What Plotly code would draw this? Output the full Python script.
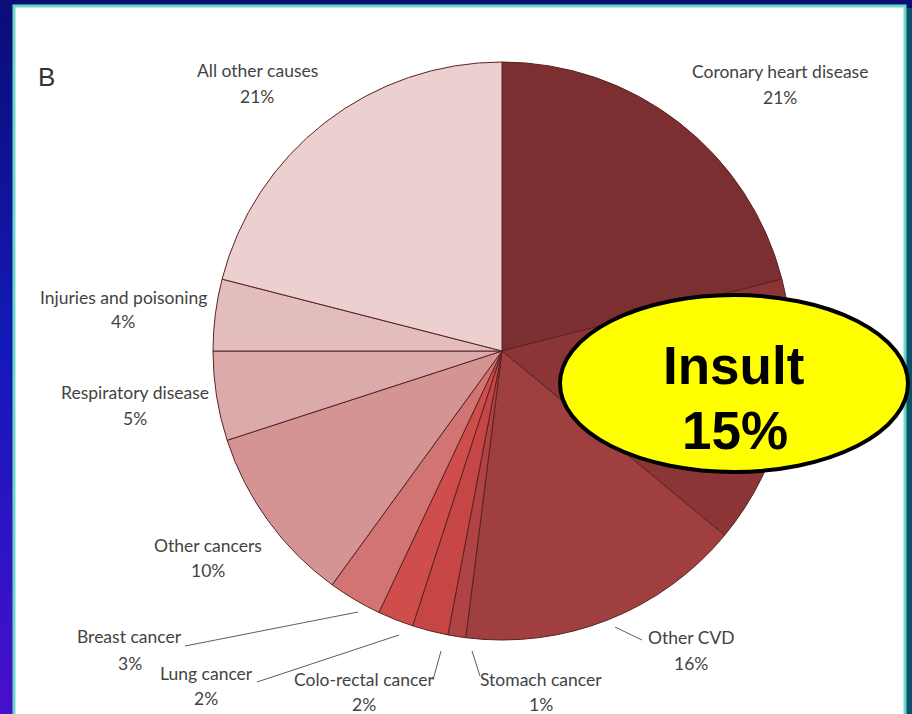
import plotly.graph_objects as go

# ---- data ----
causes = ["Coronary heart disease", "Insult", "Other CVD", "Stomach cancer",
          "Colo-rectal cancer", "Lung cancer", "Breast cancer", "Other cancers",
          "Respiratory disease", "Injuries and poisoning", "All other causes"]
shares = [21, 15, 16, 1, 2, 2, 3, 10, 5, 4, 21]
slice_colors = ["#7c2f30", "#8c3536", "#a03f3f", "#b04343", "#c64646", "#cf4d4b",
                "#d27474", "#d49494", "#dbaaaa", "#e3bdbd", "#ecd0cf"]
label_pct = ["21%", "15%", "16%", "1%", "2%", "2%", "3%", "10%", "5%", "4%", "21%"]

W, H = 912, 714
def px(x): return x / W
def py(y): return 1 - y / H

fig = go.Figure()

# pie geometry
cx, cy, R = 502, 351, 289
fig.add_trace(go.Pie(
    labels=causes, values=shares, sort=False, direction="clockwise", rotation=0,
    marker=dict(colors=slice_colors, line=dict(color="#5a2222", width=1)),
    textinfo="none", hoverinfo="label+percent", showlegend=False,
    domain=dict(x=[px(cx - R), px(cx + R)], y=[py(cy + R), py(cy - R)]),
))

shapes = []
# background gradient bands
top = (10, 14, 118)
mid = (20, 26, 185)
bot = (72, 16, 204)
n = 40
for i in range(n):
    t = (i + 0.5) / n
    if t < 0.5:
        a, b, u = top, mid, t / 0.5
    else:
        a, b, u = mid, bot, (t - 0.5) / 0.5
    c = tuple(int(a[k] + (b[k] - a[k]) * u) for k in range(3))
    shapes.append(dict(type="rect", xref="paper", yref="paper", layer="below",
                       x0=0, x1=1, y0=1 - (i + 1) / n - 0.002, y1=1 - i / n,
                       line=dict(width=0), fillcolor="rgb(%d,%d,%d)" % c))
# right dark teal shadow
shapes.append(dict(type="rect", xref="paper", yref="paper", layer="below",
                   x0=px(905), x1=px(912), y0=0, y1=py(8),
                   line=dict(width=0), fillcolor="#0b4f68"))
# white panel with teal border
shapes.append(dict(type="rect", xref="paper", yref="paper", layer="below",
                   x0=px(14), x1=px(905), y0=py(716), y1=py(6),
                   line=dict(color="#6cd8c8", width=3), fillcolor="#ffffff"))

# leader lines
leaders = [
    ((185, 646), (358, 612)),   # Breast
    ((257, 682), (399, 635)),   # Lung
    ((433, 680), (441, 651)),   # Colo-rectal
    ((480, 676), (472, 651)),   # Stomach
    ((615, 627), (642, 640)),   # Other CVD
]
for (x0, y0), (x1, y1) in leaders:
    shapes.append(dict(type="line", xref="paper", yref="paper",
                       x0=px(x0), y0=py(y0), x1=px(x1), y1=py(y1),
                       line=dict(color="#5e5e5e", width=1)))

# yellow ellipse
shapes.append(dict(type="circle", xref="paper", yref="paper", layer="above",
                   x0=px(560), x1=px(908), y0=py(472), y1=py(295),
                   line=dict(color="#000000", width=4), fillcolor="#ffff00"))

annotations = []
def txt(x, y, s, size=17.5, color="#434343", family="Lato", bold=False):
    annotations.append(dict(xref="paper", yref="paper", x=px(x), y=py(y),
                            text=("<b>%s</b>" % s) if bold else s, showarrow=False,
                            xanchor="center", yanchor="middle",
                            font=dict(size=size, color=color, family=family)))

label_pos = {
    "Coronary heart disease": ((780, 72), (780, 98)),
    "Other CVD": ((691, 637), (691, 663)),
    "Stomach cancer": ((541, 679), (541, 704)),
    "Colo-rectal cancer": ((364, 679), (364, 704)),
    "Lung cancer": ((206, 673), (206, 698)),
    "Breast cancer": ((129, 636), (130, 663)),
    "Other cancers": ((208, 545), (208, 570)),
    "Respiratory disease": ((135, 392), (135, 418)),
    "Injuries and poisoning": ((123, 297), (123, 322)),
    "All other causes": ((257, 71), (257, 97)),
}
for name, pct in zip(causes, label_pct):
    if name in label_pos:
        (x1, y1), (x2, y2) = label_pos[name]
        txt(x1, y1, name)
        txt(x2, y2, pct)

txt(46, 77, "B", size=26, color="#333333", family="Liberation Sans")

# Insult callout text
ins = causes[1]
txt(733, 366, ins, size=53, color="#000000", family="Liberation Sans", bold=True)
txt(735, 430, label_pct[1], size=53, color="#000000", family="Liberation Sans", bold=True)

fig.update_layout(width=W, height=H, margin=dict(l=0, r=0, t=0, b=0),
                  paper_bgcolor="#0d1290", plot_bgcolor="rgba(0,0,0,0)",
                  shapes=shapes, annotations=annotations, showlegend=False)
fig.write_html("out.html")
